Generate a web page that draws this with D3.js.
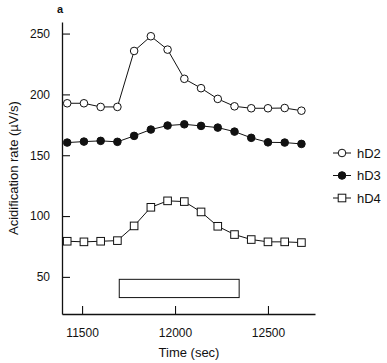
<!DOCTYPE html>
<html>
<head>
<meta charset="utf-8">
<script src="https://cdn.jsdelivr.net/npm/d3@7"></script>
<style>
  body { margin: 0; background: #fff; }
  svg text { font-family: "Liberation Sans", Arial, sans-serif; fill: #111; }
</style>
</head>
<body>
<div id="chart"></div>
<script>
// sample times (sec), one reading every ~90 s
const times = [11420, 11510, 11600, 11690, 11780, 11870, 11960, 12050, 12140, 12230, 12320, 12410, 12500, 12590, 12680];

const hD2 = [192.7, 192.7, 189.7, 189.7, 235.7, 247.8, 236.8, 212.8, 205.1, 196.3, 190.2, 188.6, 188.6, 188.8, 186.6];
const hD3 = [160.4, 161.2, 161.8, 161.0, 165.9, 171.1, 174.4, 175.4, 174.1, 172.7, 169.4, 164.3, 160.6, 160.4, 159.3];
const hD4 = [79.3, 78.8, 79.3, 79.8, 91.9, 107.2, 112.5, 111.9, 103.4, 91.6, 84.8, 80.7, 78.8, 78.8, 78.2];

const seriesNames = ['hD2', 'hD3', 'hD4'];
const xTicks = [11500, 12000, 12500];
const yTicks = [50, 100, 150, 200, 250];

// stimulus period bar
const stimStart = 11700, stimEnd = 12345, stimLow = 33, stimHigh = 48;

const width = 387, height = 363;

const svg = d3.select('#chart').append('svg')
  .attr('width', width)
  .attr('height', height);

const x = d3.scaleLinear().domain([11392, 12753]).range([62, 315]);
const y = d3.scaleLinear().domain([19.5, 259.5]).range([314, 22]);

const series = [
  { name: 'hD2', values: hD2, marker: 'circle', fill: '#fff' },
  { name: 'hD3', values: hD3, marker: 'circle', fill: '#111' },
  { name: 'hD4', values: hD4, marker: 'square', fill: '#fff' }
];

// axes, ticks pointing inward
const xAxis = svg.append('g')
  .attr('transform', 'translate(0,' + y.range()[0] + ')')
  .call(d3.axisBottom(x).tickValues(xTicks).tickFormat(d3.format('d')).tickSize(-8).tickPadding(14).tickSizeOuter(0));

const yAxis = svg.append('g')
  .attr('transform', 'translate(' + x.range()[0] + ',0)')
  .call(d3.axisLeft(y).tickValues(yTicks).tickSize(-8).tickPadding(12).tickSizeOuter(0));

[xAxis, yAxis].forEach(function(g) {
  g.select('.domain').attr('stroke', '#111').attr('stroke-width', 1.3);
  g.selectAll('.tick line').attr('stroke', '#111').attr('stroke-width', 1.1);
  g.selectAll('.tick text')
    .attr('font-size', 12)
    .attr('font-family', '"Liberation Sans", Arial, sans-serif')
    .attr('fill', '#111');
});

// stimulus rectangle
svg.append('rect')
  .attr('x', x(stimStart))
  .attr('y', y(stimHigh))
  .attr('width', x(stimEnd) - x(stimStart))
  .attr('height', y(stimLow) - y(stimHigh))
  .attr('fill', 'none')
  .attr('stroke', '#111')
  .attr('stroke-width', 1);

const line = d3.line()
  .x(function(d) { return x(d[0]); })
  .y(function(d) { return y(d[1]); });

const drawMarker = function(g, s, cx, cy) {
  if(s.marker === 'circle') {
    g.append('circle')
      .attr('cx', cx).attr('cy', cy).attr('r', 3.8)
      .attr('fill', s.fill).attr('stroke', '#111').attr('stroke-width', 1);
  } else {
    g.append('rect')
      .attr('x', cx - 3.8).attr('y', cy - 3.8)
      .attr('width', 7.6).attr('height', 7.6)
      .attr('fill', s.fill).attr('stroke', '#111').attr('stroke-width', 1);
  }
};

series.forEach(function(s) {
  const pts = times.map(function(t, i) { return [t, s.values[i]]; });
  const g = svg.append('g');
  g.append('path')
    .attr('d', line(pts))
    .attr('fill', 'none')
    .attr('stroke', '#111')
    .attr('stroke-width', 1);
  pts.forEach(function(p) { drawMarker(g, s, x(p[0]), y(p[1])); });
});

// legend
const legendY = [153, 175.5, 198];
series.forEach(function(s, i) {
  const g = svg.append('g');
  g.append('line')
    .attr('x1', 333).attr('x2', 351)
    .attr('y1', legendY[i]).attr('y2', legendY[i])
    .attr('stroke', '#111').attr('stroke-width', 1);
  drawMarker(g, s, 342, legendY[i]);
  g.append('text')
    .attr('x', 357).attr('y', legendY[i])
    .attr('dy', '0.36em')
    .attr('font-size', 13)
    .text(seriesNames[i]);
});

// titles
svg.append('text')
  .attr('x', 189).attr('y', 357)
  .attr('text-anchor', 'middle')
  .attr('font-size', 13)
  .text('Time (sec)');

svg.append('text')
  .attr('transform', 'translate(18,168) rotate(-90)')
  .attr('text-anchor', 'middle')
  .attr('font-size', 13)
  .text('Acidification rate (\u00b5V/s)');

svg.append('text')
  .attr('x', 60).attr('y', 13)
  .attr('text-anchor', 'middle')
  .attr('font-size', 11)
  .attr('font-weight', 'bold')
  .text('a');
</script>
</body>
</html>
